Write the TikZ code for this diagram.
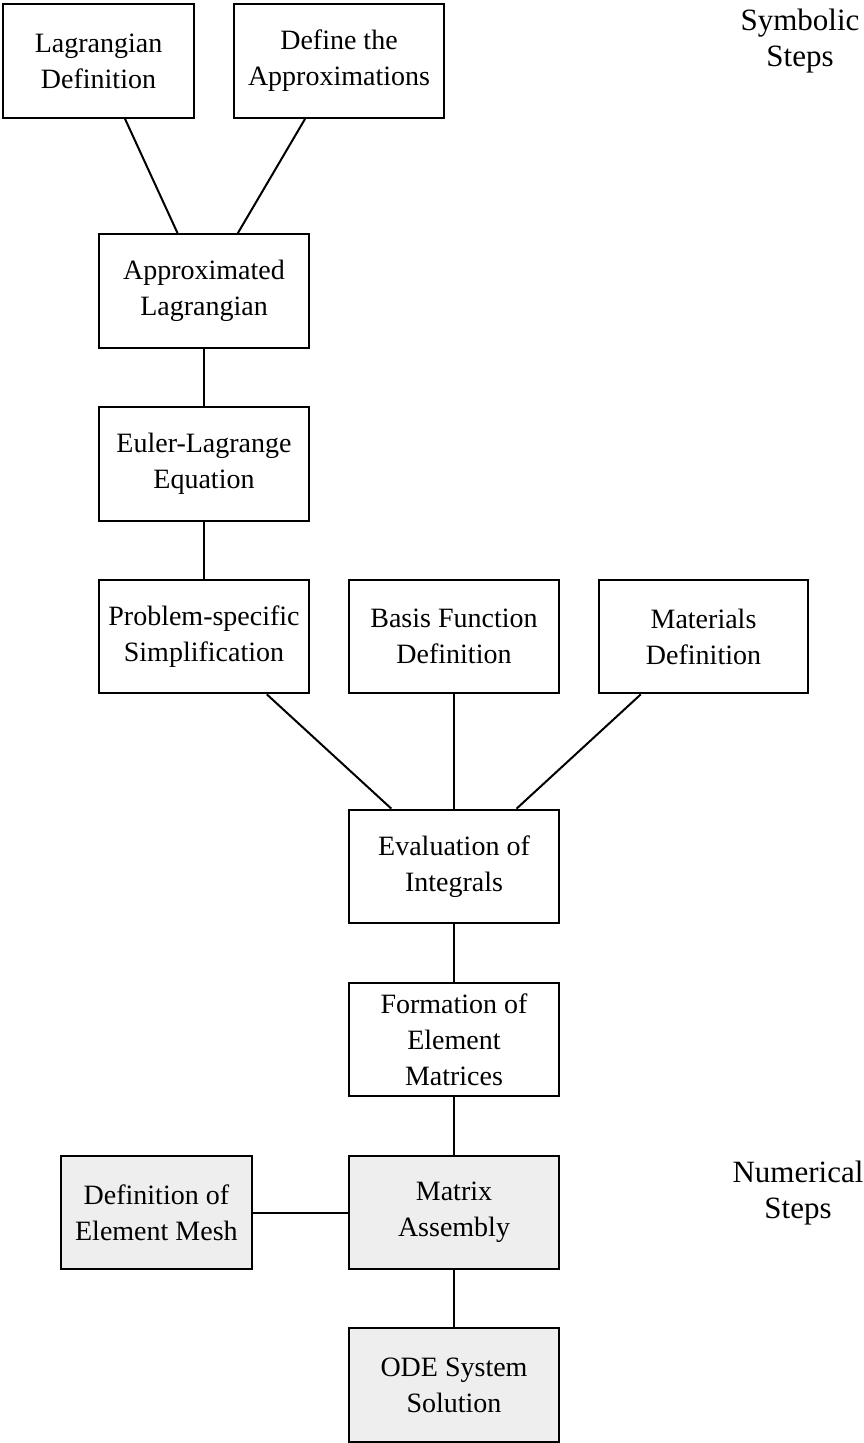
\documentclass[tikz,border=0pt]{standalone}
\usepackage{fontspec}
\setmainfont{Liberation Serif}
\definecolor{numfill}{RGB}{238,238,238}
\begin{document}
\begin{tikzpicture}[x=1pt,y=-1pt,
  stepbox/.style={draw, line width=2pt, minimum width=209.7pt, minimum height=113.7pt, inner sep=0pt, align=center, font=\fontsize{28}{36}\selectfont},
  numbox/.style={stepbox, fill=numfill},
  link/.style={line width=2pt},
  side/.style={align=center, inner sep=0pt, font=\fontsize{31}{36}\selectfont}]
\useasboundingbox (0,0) rectangle (864,1443);
\node[stepbox, minimum width=191pt] (lag) at (98.5,61) {Lagrangian\\Definition};
\node[stepbox] (defapp) at (339,61) {Define the\\Approximations};
\node[stepbox] (applag) at (204,291) {Approximated\\Lagrangian};
\node[stepbox] (euler) at (204,464) {Euler-Lagrange\\Equation};
\node[stepbox] (prob) at (204,636.5) {Problem-specific\\Simplification};
\node[stepbox] (basis) at (454,636.5) {Basis Function\\Definition};
\node[stepbox] (mat) at (703.5,636.5) {Materials\\Definition};
\node[stepbox] (evalint) at (454,866.5) {Evaluation of\\Integrals};
\node[stepbox] (form) at (454,1039.5) {Formation of\\Element\\Matrices};
\node[numbox] (assem) at (454,1212.5) {Matrix\\Assembly};
\node[numbox, minimum width=191pt] (mesh) at (156.4,1212.5) {Definition of\\Element Mesh};
\node[numbox] (ode) at (454,1385) {ODE System\\Solution};
\node[side] (symb) at (800,41) {Symbolic\\Steps};
\node[side] (numer) at (798,1193) {Numerical\\Steps};
\draw[link] (lag) -- (applag);
\draw[link] (defapp) -- (applag);
\draw[link] (applag) -- (euler);
\draw[link] (euler) -- (prob);
\draw[link] (prob) -- (evalint);
\draw[link] (basis) -- (evalint);
\draw[link] (mat) -- (evalint);
\draw[link] (evalint) -- (form);
\draw[link] (form) -- (assem);
\draw[link] (mesh) -- (assem);
\draw[link] (assem) -- (ode);
\end{tikzpicture}
\end{document}
